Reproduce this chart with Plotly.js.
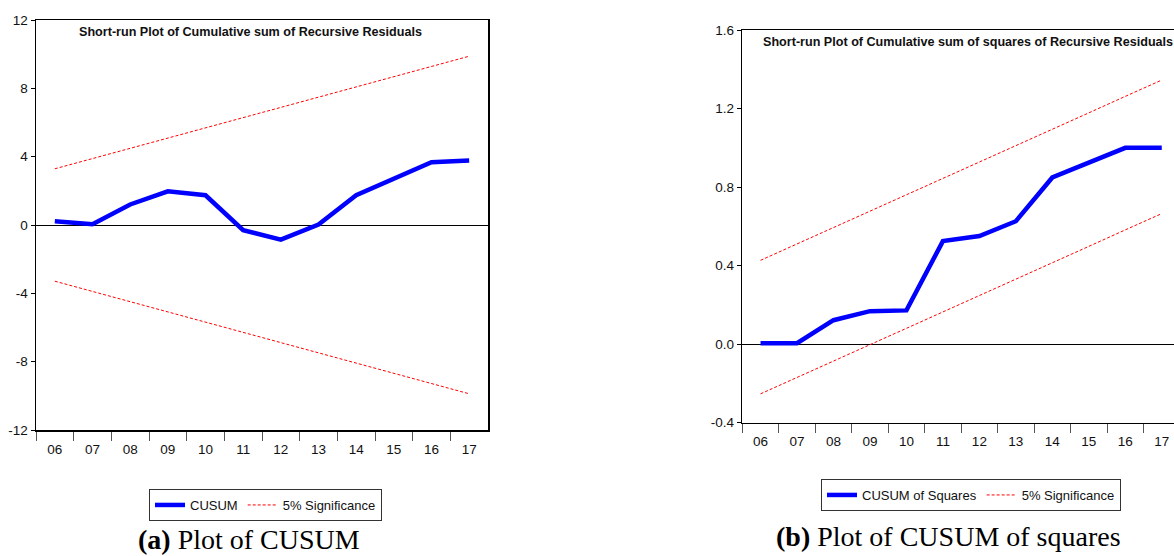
<!DOCTYPE html>
<html>
<head>
<meta charset="utf-8">
<script src="https://cdn.plot.ly/plotly-3.0.1.min.js"></script>
<style>
html, body { margin:0; padding:0; overflow:hidden; background:#fff; }
#chart { width:1180px; height:556px; }
</style>
</head>
<body>
<div id="chart"></div>
<script>
// ---- data ----
const years = ['06','07','08','09','10','11','12','13','14','15','16','17'];

const cusum      = [0.22, 0.05, 1.20, 1.97, 1.74, -0.30, -0.86, 0.03, 1.74, 2.70, 3.68, 3.77];
const cusumUpper = [3.29, 3.89, 4.49, 5.09, 5.69, 6.29, 6.89, 7.49, 8.09, 8.69, 9.29, 9.88];
const cusumLower = [-3.29, -3.89, -4.49, -5.09, -5.69, -6.29, -6.89, -7.49, -8.09, -8.69, -9.29, -9.88];

const cusumSq      = [0.005, 0.005, 0.122, 0.168, 0.172, 0.525, 0.551, 0.626, 0.849, 0.925, 1.0, 1.0];
const cusumSqUpper = [0.427, 0.510, 0.594, 0.677, 0.761, 0.844, 0.928, 1.011, 1.095, 1.178, 1.262, 1.345];
const cusumSqLower = [-0.253, -0.170, -0.086, -0.003, 0.081, 0.164, 0.248, 0.331, 0.415, 0.498, 0.582, 0.665];

const yTicksA = [-12, -8, -4, 0, 4, 8, 12];
const yTickTextA = ['-12', '-8', '-4', '0', '4', '8', '12'];
const yTicksB = [-0.4, 0.0, 0.4, 0.8, 1.2, 1.6];
const yTickTextB = ['-0.4', '0.0', '0.4', '0.8', '1.2', '1.6'];

const titleA = 'Short-run Plot of Cumulative sum of Recursive Residuals';
const titleB = 'Short-run Plot of Cumulative sum of squares of Recursive Residuals';
const captionA = '<b>(a)</b> Plot of CUSUM';
const captionB = '<b>(b)</b> Plot of CUSUM of squares';

// ---- styling ----
const narrow = '"Liberation Sans", Arial, sans-serif';
const serif = '"Liberation Serif", "Times New Roman", serif';
const blueLine = {color:'#0000FF', width:4.5};
const redLine = {color:'#FF0000', width:1, dash:'3px,2px'};

const traces = [
  {x:years, y:cusum, type:'scatter', mode:'lines', name:'CUSUM', line:blueLine, xaxis:'x', yaxis:'y', legend:'legend'},
  {x:years, y:cusumUpper, type:'scatter', mode:'lines', name:'5% Significance', line:redLine, xaxis:'x', yaxis:'y', legend:'legend'},
  {x:years, y:cusumLower, type:'scatter', mode:'lines', name:'5% Significance', line:redLine, xaxis:'x', yaxis:'y', showlegend:false},
  {x:years, y:cusumSq, type:'scatter', mode:'lines', name:'CUSUM of Squares', line:blueLine, xaxis:'x2', yaxis:'y2', legend:'legend2'},
  {x:years, y:cusumSqUpper, type:'scatter', mode:'lines', name:'5% Significance', line:redLine, xaxis:'x2', yaxis:'y2', legend:'legend2'},
  {x:years, y:cusumSqLower, type:'scatter', mode:'lines', name:'5% Significance', line:redLine, xaxis:'x2', yaxis:'y2', showlegend:false}
];

const W = 1180, H = 556;
const px = v => v / W;
const py = v => (H - v) / H;

function xAxis(domain, anchor) {
  return {
    domain: domain, anchor: anchor, type:'category', range:[-0.5, 11.5],
    showline:true, mirror:true, linecolor:'#000', linewidth:1.5,
    ticks:'outside', tickson:'boundaries', ticklen:9, tickcolor:'#555', tickwidth:1,
    ticklabelstandoff:6,
    showgrid:false, zeroline:false, automargin:false,
    tickfont:{family:narrow, size:13.5, color:'#111'}
  };
}
function yAxis(domain, anchor, range, vals, text) {
  return {
    domain: domain, anchor: anchor, range: range,
    tickvals: vals, ticktext: text,
    showline:true, mirror:true, linecolor:'#000', linewidth:1.5,
    ticks:'outside', ticklen:4, tickcolor:'#000',
    showgrid:false, zeroline:true, zerolinecolor:'#000', zerolinewidth:1,
    automargin:false,
    tickfont:{family:narrow, size:13.5, color:'#111'}
  };
}

const legendBase = {
  orientation:'h', bgcolor:'#fff', bordercolor:'#333', borderwidth:1,
  font:{family:narrow, size:13, color:'#111'},
  xanchor:'left', yanchor:'top', itemwidth:30, tracegroupgap:0
};

const layout = {
  width: W, height: H,
  margin:{l:0, r:0, t:0, b:0},
  paper_bgcolor:'#fff', plot_bgcolor:'#fff',
  showlegend:true,
  xaxis: xAxis([px(36), px(488)], 'y'),
  yaxis: yAxis([py(430), py(20)], 'x', [-12, 12], yTicksA, yTickTextA),
  xaxis2: xAxis([px(742.3), 1], 'y2'),
  yaxis2: yAxis([py(422.7), py(30)], 'x2', [-0.4, 1.6], yTicksB, yTickTextB),
  legend: Object.assign({}, legendBase, {x:px(149), y:py(489)}),
  legend2: Object.assign({}, legendBase, {x:px(821), y:py(479)}),
  annotations: [
    {text:'<b>'+titleA+'</b>', xref:'paper', yref:'paper', x:px(250), y:py(32), xanchor:'center', yanchor:'middle', showarrow:false, font:{family:narrow, size:12.6, color:'#111'}},
    {text:'<b>'+titleB+'</b>', xref:'paper', yref:'paper', x:px(968), y:py(42), xanchor:'center', yanchor:'middle', showarrow:false, font:{family:narrow, size:12.6, color:'#111'}},
    {text:captionA, xref:'paper', yref:'paper', x:px(249), y:py(539), xanchor:'center', yanchor:'middle', showarrow:false, font:{family:serif, size:28, color:'#000'}},
    {text:captionB, xref:'paper', yref:'paper', x:px(948), y:py(536), xanchor:'center', yanchor:'middle', showarrow:false, font:{family:serif, size:28, color:'#000'}}
  ]
};

Plotly.newPlot('chart', traces, layout, {displayModeBar:false, staticPlot:true});
</script>
</body>
</html>
